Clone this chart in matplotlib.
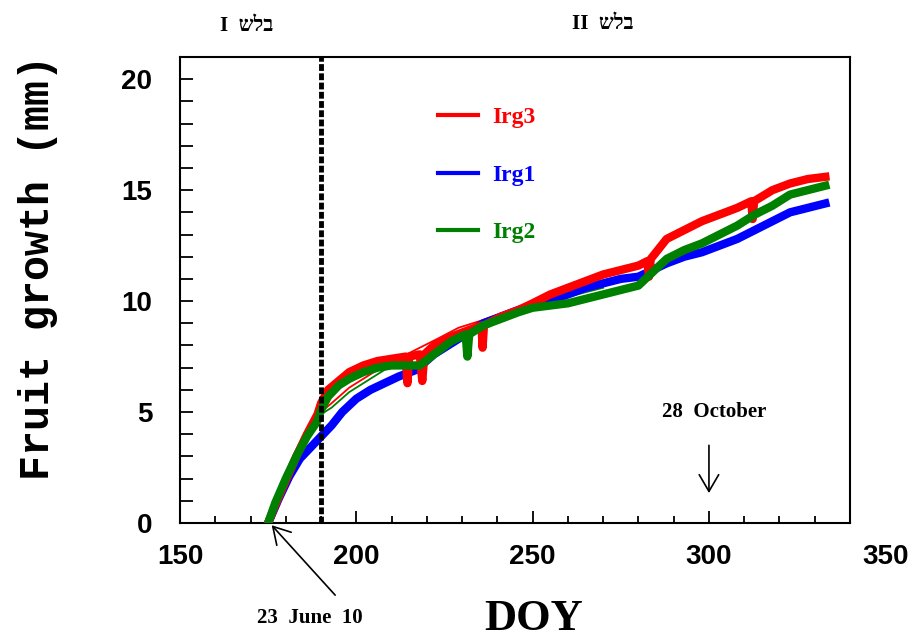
import matplotlib
matplotlib.use("Agg")
import matplotlib.pyplot as plt
from matplotlib.lines import Line2D

# Irg3 (red)
doy_irg3 = [175, 177, 180, 183, 186, 189, 190, 192, 195, 198, 202, 206, 210,
            214, 214.5, 215, 218, 218.7, 219.3, 222, 227, 232, 235.5, 235.8, 236.2,
            241, 246, 250, 255, 260, 265, 270, 275, 280, 282.5, 283, 283.5, 288,
            293, 298, 303, 308, 312, 312.4, 312.8, 318, 323, 328, 333]
val_irg3 = [0, 0.8, 1.9, 3.0, 4.0, 4.9, 5.4, 6.0, 6.4, 6.8, 7.1, 7.3, 7.4,
            7.5, 6.3, 7.5, 7.6, 6.4, 7.6, 8.0, 8.4, 8.7, 8.9, 7.9, 8.9,
            9.3, 9.6, 9.9, 10.3, 10.6, 10.9, 11.2, 11.4, 11.6, 11.8, 11.1, 11.9, 12.8,
            13.2, 13.6, 13.9, 14.2, 14.5, 13.7, 14.5, 15.0, 15.3, 15.5, 15.6]

# Irg1 (blue)
doy_irg1 = [175, 178, 181, 184, 187, 190, 193, 196, 200, 204, 208, 212, 217,
            222, 227, 232, 236, 241, 246, 250, 255, 260, 265, 270, 275, 280,
            284, 288, 293, 298, 303, 308, 313, 318, 323, 328, 333]
val_irg1 = [0, 1.1, 2.1, 2.9, 3.4, 3.9, 4.4, 5.0, 5.6, 6.0, 6.3, 6.6, 6.9,
            7.6, 8.1, 8.6, 9.0, 9.3, 9.6, 9.8, 10.0, 10.3, 10.6, 10.8, 11.0, 11.1,
            11.4, 11.7, 12.0, 12.2, 12.5, 12.8, 13.2, 13.6, 14.0, 14.2, 14.4]

# Irg2 (green)
doy_irg2 = [175, 177, 180, 183, 186, 189, 190, 192, 195, 198, 202, 206, 210,
            214, 218, 222, 227, 231, 231.5, 232, 236, 241, 246, 250, 255, 260,
            265, 270, 275, 280, 284, 288, 293, 298, 303, 308, 313, 318, 323,
            328, 333]
val_irg2 = [0, 0.9, 2.0, 3.0, 3.9, 4.6, 5.1, 5.7, 6.2, 6.5, 6.8, 7.0, 7.1,
            7.1, 7.1, 7.6, 8.2, 8.5, 7.5, 8.5, 8.9, 9.2, 9.5, 9.7, 9.8, 9.9,
            10.1, 10.3, 10.5, 10.7, 11.3, 11.9, 12.3, 12.6, 13.0, 13.4, 13.9, 14.3, 14.8,
            15.0, 15.2]

# thin fitted curves
doy_fit = [190, 193, 198, 203, 208, 213, 218, 223, 229, 235, 242, 250, 258, 265, 270]
fit_irg3 = [5.0, 5.4, 6.1, 6.6, 7.1, 7.5, 7.9, 8.3, 8.8, 9.1, 9.5, 9.9, 10.3, 10.6, 10.8]
fit_irg2 = [4.9, 5.2, 5.9, 6.4, 6.9, 7.3, 7.6, 8.0, 8.5, 8.9, 9.3, 9.7, 10.1, 10.4, 10.6]

stage_split = 190
x_ticks = [150, 200, 250, 300]
y_ticks = [0, 5, 10, 15, 20]
stage_word = "\u05e9\u05dc\u05d1"

RED, BLUE, GREEN = "#ff0000", "#0000ff", "#008000"
sans = ["Liberation Sans", "DejaVu Sans"]
serif = ["Liberation Serif", "DejaVu Serif", "DejaVu Sans"]
mono = ["Liberation Mono", "DejaVu Sans Mono"]

fig = plt.figure(figsize=(9.22, 6.43), dpi=100)
ax = fig.add_axes([180 / 922, 1 - 523 / 643, 670 / 922, 466 / 643])

ax.plot(doy_fit, fit_irg3, color=RED, lw=1.3, zorder=1)
ax.plot(doy_fit, fit_irg2, color=GREEN, lw=1.3, zorder=1)
ax.plot(doy_irg1, val_irg1, color=BLUE, lw=6, solid_joinstyle="round", zorder=2)
ax.plot(doy_irg3, val_irg3, color=RED, lw=6, solid_joinstyle="round", zorder=3)
ax.plot(doy_irg2, val_irg2, color=GREEN, lw=6, solid_joinstyle="round", zorder=4)

ax.axvline(stage_split, color="black", lw=3.5, linestyle=(0, (1.4, 0.5)), zorder=5)

ax.set_xlim(150, 340)
ax.set_ylim(0, 21)
ax.set_xticks(x_ticks)
ax.set_xticks(range(150, 341, 10), minor=True)
ax.set_yticks(y_ticks)
ax.set_yticks(range(0, 21), minor=True)
ax.tick_params(axis="x", which="major", direction="in", length=9, width=1.3, pad=15)
ax.tick_params(axis="x", which="minor", direction="in", length=5, width=1.3)
ax.tick_params(axis="y", which="both", direction="in", length=9, width=1.3, pad=20)
for lab in ax.get_xticklabels() + ax.get_yticklabels():
    lab.set_family(sans)
    lab.set_fontweight("bold")
    lab.set_fontsize(20)
for s in ax.spines.values():
    s.set_linewidth(1.5)

# the 350 label sits beyond the axis end
ax.annotate("350", xy=(350, 0), xycoords=("data", "axes fraction"),
            xytext=(0, -15), textcoords="offset points", ha="center", va="top",
            family=sans, fontweight="bold", fontsize=20, annotation_clip=False)

fig.text(38 / 922, 1 - 268 / 643, "Fruit growth (mm)", rotation=90, ha="center",
         va="center", family=mono, fontweight="bold", fontsize=30)
fig.text(534 / 922, 1 - 619 / 643, "DOY", ha="center", va="center",
         family=serif, fontweight="bold", fontsize=32)

fig.text(247 / 922, 1 - 26 / 643, "I  " + stage_word, ha="center", va="center",
         family=serif, fontweight="bold", fontsize=15)
fig.text(603 / 922, 1 - 24 / 643, "II  " + stage_word, ha="center", va="center",
         family=serif, fontweight="bold", fontsize=15)

handles = [Line2D([], [], color=RED, lw=3),
           Line2D([], [], color=BLUE, lw=3),
           Line2D([], [], color=GREEN, lw=3)]
ax.legend(handles, ["Irg3", "Irg1", "Irg2"], loc="upper left",
          bbox_to_anchor=(0.385, 0.893), frameon=False, borderpad=0,
          borderaxespad=0, handlelength=1.7, handletextpad=0.6,
          labelspacing=1.52, labelcolor=[RED, BLUE, GREEN],
          prop={"family": serif, "weight": "bold", "size": 17})

arrow = dict(arrowstyle="->,head_length=0.6,head_width=0.35", lw=1.2,
             color="black", mutation_scale=20, shrinkA=0, shrinkB=0)
ax.annotate("", xy=(176, -0.1), xytext=(194, -3.25), arrowprops=arrow,
            annotation_clip=False)
fig.text(310 / 922, 1 - 618 / 643, "23  June  10", ha="center", va="center",
         family=serif, fontweight="bold", fontsize=15)

ax.annotate("", xy=(300, 1.35), xytext=(300, 3.5), arrowprops=arrow)
ax.text(301.5, 5.0, "28  October", ha="center", va="center",
        family=serif, fontweight="bold", fontsize=15)

fig.savefig("out.png", dpi=100)
